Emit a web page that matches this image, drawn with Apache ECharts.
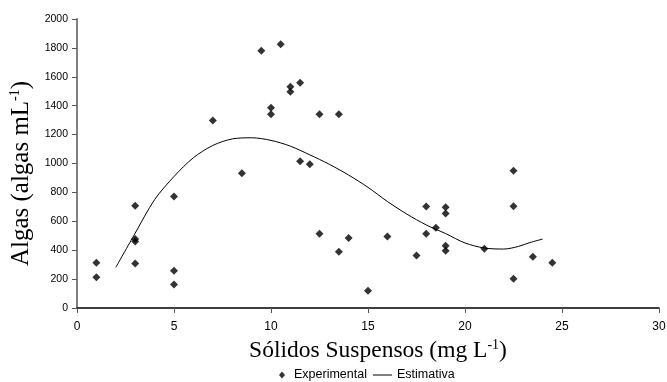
<!DOCTYPE html>
<html>
<head>
<meta charset="utf-8">
<script src="https://cdn.jsdelivr.net/npm/echarts@6/dist/echarts.min.js"></script>
<style>html,body{margin:0;padding:0;background:#fff}#c{width:667px;height:382px}</style>
</head>
<body>
<div id="c"></div>
<script>
// Experimental points (Sólidos Suspensos, Algas)
var expX = [1, 1, 3, 3, 3, 3, 5, 5, 5, 7, 8.5, 9.5, 10.5, 11.5, 11, 11, 10, 10, 12.5, 13.5, 11.5, 12,
            12.5, 13.5, 14, 15, 16, 17.5, 18, 18, 18.5, 19, 19, 19, 19, 21, 22.5, 22.5, 22.5, 23.5, 24.5];
var expY = [313, 212, 707, 477, 460, 308, 772, 258, 163, 1297, 933, 1781, 1825, 1559, 1532, 1497, 1385, 1341, 1341, 1341, 1016, 995,
            513, 389, 484, 120, 495, 364, 702, 513, 555, 698, 654, 431, 396, 410, 949, 705, 203, 355, 313];
// Estimated curve
var estX = [2, 3, 4, 5, 6, 7, 8, 9, 10, 11, 12, 13, 14, 15, 16, 17, 18, 19, 20, 21, 22, 22.75, 23.35, 24];
var estY = [281, 518, 750, 910, 1040, 1125, 1170, 1178, 1160, 1120, 1060, 995, 920, 835, 737, 650, 575, 515, 450, 415, 408, 426, 453, 477];
var xTicks = [0, 5, 10, 15, 20, 25, 30];
var yTicks = [0, 200, 400, 600, 800, 1000, 1200, 1400, 1600, 1800, 2000];

var chart = echarts.init(document.getElementById('c'));
function rich(size) {
  return {
    a: {fontFamily: 'Liberation Serif', fontSize: size, color: '#000'},
    s: {fontFamily: 'Liberation Serif', fontSize: Math.round(size * 0.58), color: '#000', verticalAlign: 'top', padding: [0, 0, Math.round(size * 0.45), 0]}
  };
}
chart.setOption({
  animation: false,
  grid: {left: 77, right: 8, top: 19, bottom: 74, containLabel: false, outerBoundsMode: 'none'},
  legend: [
    {
      left: 279, top: 368, padding: 0, itemWidth: 6, itemHeight: 7,
      textStyle: {fontFamily: 'Liberation Sans', fontSize: 12.5, color: '#000', lineHeight: 14, padding: [0, 0, 0, 4]},
      data: [{name: 'Experimental', icon: 'diamond', itemStyle: {color: '#000'}}]
    },
    {
      left: 373, top: 368, padding: 0, itemWidth: 19, itemHeight: 1,
      textStyle: {fontFamily: 'Liberation Sans', fontSize: 12.5, color: '#000', lineHeight: 14},
      data: [{name: 'Estimativa', icon: 'rect', itemStyle: {color: '#000'}}]
    }
  ],
  xAxis: {
    type: 'value', min: xTicks[0], max: xTicks[xTicks.length - 1], interval: 5,
    name: '{a|Sólidos Suspensos (mg L}{s|-1}{a|)}',
    nameLocation: 'middle', nameGap: 29,
    nameTextStyle: {rich: rich(23.5), padding: [0, 0, 0, 20]},
    axisLine: {lineStyle: {color: '#000', width: 1.5}},
    axisTick: {length: 5, lineStyle: {color: '#555'}},
    axisLabel: {margin: 13, fontFamily: 'Liberation Sans', fontSize: 12, color: '#000'},
    splitLine: {show: false}
  },
  yAxis: {
    type: 'value', min: yTicks[0], max: yTicks[yTicks.length - 1], interval: 200,
    name: '{a|Algas (algas mL}{s|-1}{a|)}',
    nameLocation: 'middle', nameGap: 42, nameRotate: 90,
    nameTextStyle: {rich: rich(25), padding: [0, 20, 0, 0]},
    axisLine: {show: true, lineStyle: {color: '#808080', width: 2}},
    axisTick: {show: true, length: 5, lineStyle: {color: '#555'}},
    axisLabel: {margin: 9, fontFamily: 'Liberation Sans', fontSize: 10.5, color: '#000',
      formatter: function (v) { return String(v); }},
    splitLine: {show: false}
  },
  series: [
    {
      name: 'Experimental', type: 'scatter', symbol: 'diamond', symbolSize: 8,
      itemStyle: {color: '#000'},
      data: expX.map(function (x, i) { return [x, expY[i]]; }),
      z: 3
    },
    {
      name: 'Estimativa', type: 'line', symbol: 'none', smooth: 0.3,
      lineStyle: {color: '#000', width: 1},
      itemStyle: {color: '#000'},
      data: estX.map(function (x, i) { return [x, estY[i]]; })
    }
  ]
});
</script>
</body>
</html>
